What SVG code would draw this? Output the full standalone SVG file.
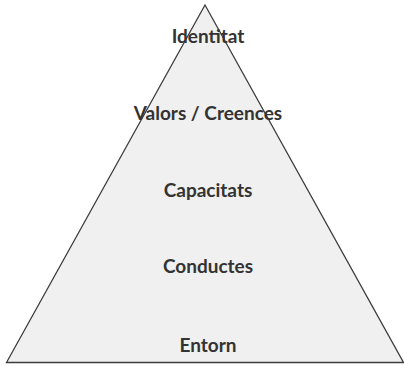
<svg xmlns="http://www.w3.org/2000/svg" width="404" height="366" viewBox="0 0 404 366">
  <style>
    .lbl { font-family: Lato, "Open Sans", "DejaVu Sans", sans-serif; font-weight: bold; font-size: 19px; fill: #333333; text-anchor: middle; }
    .tri { fill: #f0f0f0; stroke: #3c3c3c; stroke-width: 1.3; stroke-linejoin: miter; }
  </style>
  <rect width="404" height="366" fill="#ffffff"/>
  <g id="pyramid">
    <polygon class="tri" points="205,5 6.5,362.5 403.5,362.5"/>
  </g>
  <g id="connectors"/>
  <g id="node-identitat"><text class="lbl" x="208" y="43">Identitat</text></g>
  <g id="node-valors"><text class="lbl" x="208" y="120">Valors / Creences</text></g>
  <g id="node-capacitats"><text class="lbl" x="208" y="196.5">Capacitats</text></g>
  <g id="node-conductes"><text class="lbl" x="208" y="273">Conductes</text></g>
  <g id="node-entorn"><text class="lbl" x="208" y="351.5">Entorn</text></g>
</svg>
